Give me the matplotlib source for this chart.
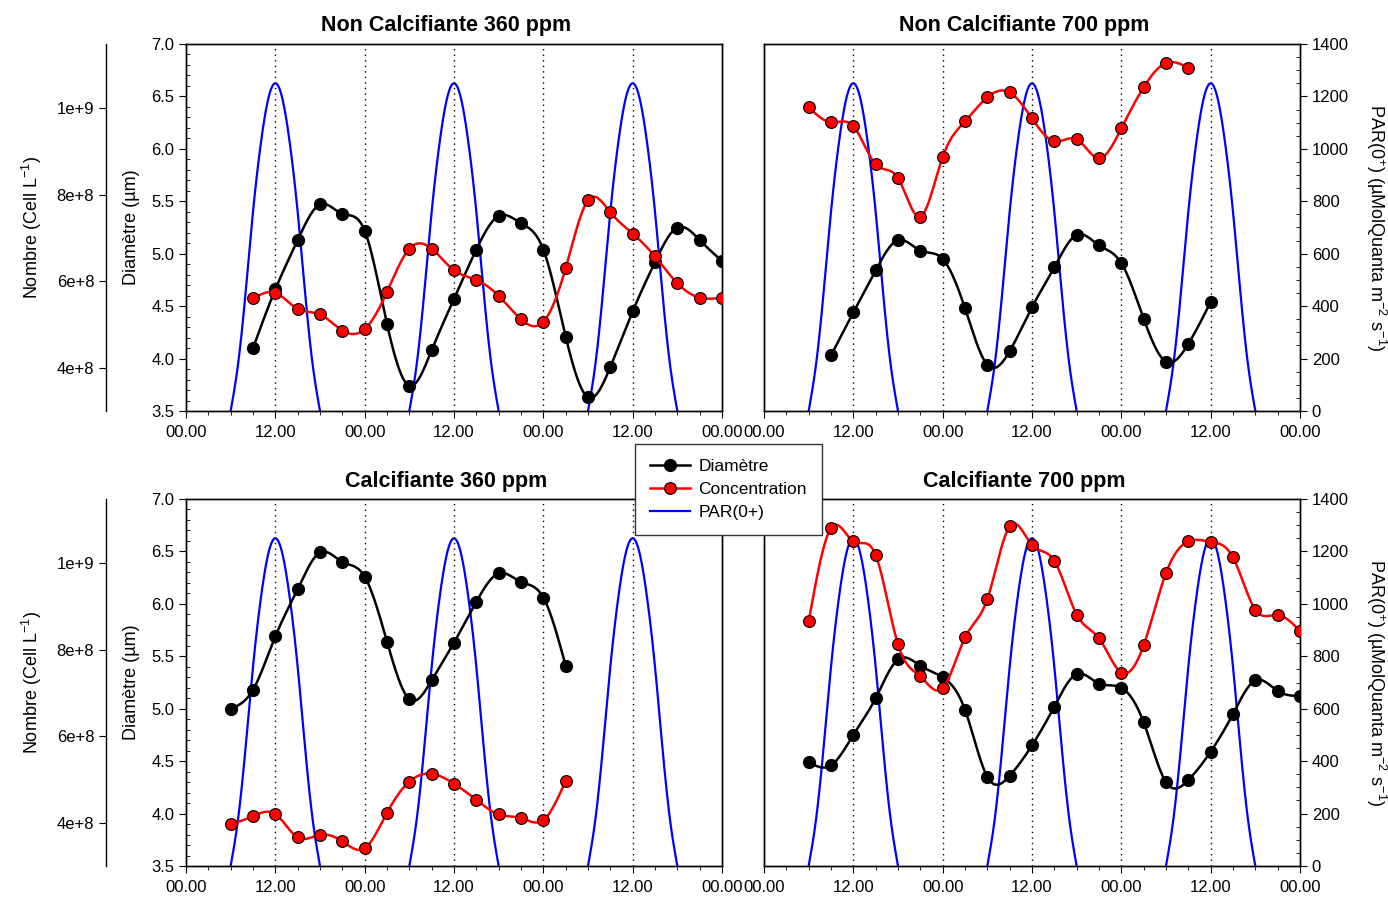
import numpy as np
import matplotlib
matplotlib.use("Agg")
import matplotlib.pyplot as plt
from matplotlib.lines import Line2D

plt.rcParams["font.family"] = ["Liberation Sans", "DejaVu Sans"]

# --- data (hours since start, diameter in um, concentration in cell/L) ---
t_nc360_d = [9, 12, 15, 18, 21, 24, 27, 30, 33, 36, 39, 42, 45, 48, 51, 54, 57, 60, 63, 66, 69, 72]
d_nc360 = [4.10, 4.66, 5.13, 5.47, 5.38, 5.22, 4.33, 3.74, 4.08, 4.57, 5.04, 5.36,
           5.29, 5.04, 4.21, 3.63, 3.92, 4.45, 4.92, 5.25, 5.13, 4.93]
t_nc360_c = t_nc360_d
c_nc360 = [5.60e8, 5.73e8, 5.36e8, 5.23e8, 4.86e8, 4.89e8, 5.75e8, 6.75e8, 6.75e8, 6.25e8, 6.03e8,
           5.66e8, 5.12e8, 5.06e8, 6.30e8, 7.87e8, 7.59e8, 7.10e8, 6.57e8, 5.95e8, 5.62e8, 5.62e8]

t_nc700_d = [9, 12, 15, 18, 21, 24, 27, 30, 33, 36, 39, 42, 45, 48, 51, 54, 57, 60]
d_nc700 = [4.03, 4.44, 4.84, 5.13, 5.03, 4.95, 4.48, 3.94, 4.07, 4.49, 4.87, 5.18,
           5.08, 4.91, 4.38, 3.97, 4.14, 4.54]
t_nc700_c = [6, 9, 12, 15, 18, 21, 24, 27, 30, 33, 36, 39, 42, 45, 48, 51, 54, 57]
c_nc700 = [1.0015e9, 9.67e8, 9.58e8, 8.70e8, 8.38e8, 7.49e8, 8.87e8, 9.69e8, 1.025e9,
           1.036e9, 9.76e8, 9.23e8, 9.28e8, 8.84e8, 9.53e8, 1.048e9, 1.104e9, 1.093e9]

t_c360_d = [6, 9, 12, 15, 18, 21, 24, 27, 30, 33, 36, 39, 42, 45, 48, 51]
d_c360 = [5.00, 5.18, 5.69, 6.14, 6.49, 6.40, 6.26, 5.64, 5.09, 5.27, 5.63, 6.02,
          6.29, 6.21, 6.06, 5.41]
t_c360_c = t_c360_d
c_c360 = [3.96e8, 4.15e8, 4.20e8, 3.66e8, 3.72e8, 3.57e8, 3.41e8, 4.23e8, 4.95e8,
          5.13e8, 4.90e8, 4.53e8, 4.19e8, 4.11e8, 4.06e8, 4.97e8]

t_c700_d = [6, 9, 12, 15, 18, 21, 24, 27, 30, 33, 36, 39, 42, 45, 48, 51, 54, 57, 60, 63, 66, 69, 72]
d_c700 = [4.49, 4.46, 4.75, 5.10, 5.47, 5.41, 5.30, 4.99, 4.35, 4.36, 4.65, 5.02,
          5.33, 5.24, 5.20, 4.87, 4.30, 4.32, 4.59, 4.95, 5.27, 5.17, 5.12]
t_c700_c = t_c700_d
c_c700 = [8.65e8, 1.081e9, 1.050e9, 1.0185e9, 8.12e8, 7.38e8, 7.11e8, 8.28e8, 9.17e8,
          1.085e9, 1.042e9, 1.005e9, 8.81e8, 8.26e8, 7.47e8, 8.10e8, 9.77e8, 1.050e9,
          1.049e9, 1.013e9, 8.92e8, 8.80e8, 8.43e8]

# PAR(0+) over one light period, same every day
par_hours = [6, 7, 8, 9, 10, 11, 12, 13, 14, 15, 16, 17, 18]
par_values = [0, 180, 450, 760, 1010, 1185, 1250, 1185, 1010, 760, 450, 180, 0]
par_days = [0, 24, 48]

titles = ["Non Calcifiante 360 ppm", "Non Calcifiante 700 ppm",
          "Calcifiante 360 ppm", "Calcifiante 700 ppm"]
x_ticks = [0, 12, 24, 36, 48, 60, 72]
x_labels = ["00.00", "12.00", "00.00", "12.00", "00.00", "12.00", "00.00"]
nombre_ticks = [4e8, 6e8, 8e8, 1e9]
nombre_labels = ["4e+8", "6e+8", "8e+8", "1e+9"]


def smooth(x, y, n=500):
    """Natural cubic spline through the points, for drawing."""
    x = np.asarray(x, float)
    y = np.asarray(y, float)
    h = np.diff(x)
    m = len(x)
    A = np.zeros((m, m))
    b = np.zeros(m)
    A[0, 0] = A[-1, -1] = 1
    for i in range(1, m - 1):
        A[i, i - 1] = h[i - 1]
        A[i, i] = 2 * (h[i - 1] + h[i])
        A[i, i + 1] = h[i]
        b[i] = 3 * ((y[i + 1] - y[i]) / h[i] - (y[i] - y[i - 1]) / h[i - 1])
    c = np.linalg.solve(A, b)
    xs = np.linspace(x[0], x[-1], n)
    idx = np.clip(np.searchsorted(x, xs) - 1, 0, m - 2)
    dx = xs - x[idx]
    bb = (y[idx + 1] - y[idx]) / h[idx] - h[idx] * (2 * c[idx] + c[idx + 1]) / 3
    dd = (c[idx + 1] - c[idx]) / (3 * h[idx])
    return xs, y[idx] + bb * dx + c[idx] * dx ** 2 + dd * dx ** 3


fig = plt.figure(figsize=(13.88, 8.97), dpi=100)
W, H = 1388, 897

panels = [
    (186, 44, t_nc360_d, d_nc360, t_nc360_c, c_nc360, True),
    (764, 44, t_nc700_d, d_nc700, t_nc700_c, c_nc700, False),
    (186, 499, t_c360_d, d_c360, t_c360_c, c_c360, True),
    (764, 499, t_c700_d, d_c700, t_c700_c, c_c700, False),
]
pw, ph = 536, 367

for k, (px, py, td, dv, tc, cv, left) in enumerate(panels):
    rect = [px / W, 1 - (py + ph) / H, pw / W, ph / H]
    ax = fig.add_axes(rect)
    axp = ax.twinx()
    axn = ax.twinx()
    axp.set_zorder(1)
    ax.set_zorder(2)
    axn.set_zorder(3)
    ax.patch.set_visible(False)

    # PAR
    for day in par_days:
        xs, ys = smooth(np.array(par_hours) + day, par_values)
        axp.plot(xs, ys, color="#0000ff", lw=1.6)
    axp.set_ylim(0, 1400)

    # vertical dotted guides
    for t in x_ticks[1:-1]:
        ax.axvline(t, color="black", ls=(0, (1, 3)), lw=1)

    # diameter
    xs, ys = smooth(td, dv)
    ax.plot(xs, ys, color="black", lw=1.8)
    ax.plot(td, dv, "o", color="black", ms=8.5)
    ax.set_ylim(3.5, 7.0)
    ax.set_xlim(0, 72)

    # concentration
    xs, ys = smooth(tc, cv)
    axn.plot(xs, ys, color="red", lw=1.8)
    axn.plot(tc, cv, "o", color="red", mec="black", mew=0.8, ms=8.5)
    axn.set_ylim(3.0e8, 1.148e9)

    ax.set_xticks(x_ticks)
    ax.set_xticklabels(x_labels)
    ax.set_xticks(np.arange(0, 73, 3), minor=True)
    ax.tick_params(axis="x", which="major", direction="out", length=5, labelsize=12, pad=5)
    ax.tick_params(axis="x", which="minor", direction="out", length=3)
    ax.set_title(titles[k], fontsize=15.5, fontweight="bold", pad=9, x=0.485)

    for a in (ax, axp, axn):
        for s in a.spines.values():
            s.set_linewidth(1.0)

    if left:
        ax.set_yticks(np.arange(3.5, 7.01, 0.5))
        ax.set_yticklabels([f"{v:.1f}" for v in np.arange(3.5, 7.01, 0.5)])
        ax.set_yticks(np.arange(3.5, 7.01, 0.1), minor=True)
        ax.tick_params(axis="y", which="major", direction="out", length=5, labelsize=12)
        ax.tick_params(axis="y", which="minor", direction="in", length=3)
        ax.set_ylabel("Diamètre (µm)", fontsize=13)
        ax.yaxis.set_label_coords(-46 / pw, 0.5)

        axn.yaxis.tick_left()
        axn.yaxis.set_label_position("left")
        for name in ("top", "right", "bottom"):
            axn.spines[name].set_visible(False)
        axn.spines["left"].set_visible(True)
        axn.spines["left"].set_position(("axes", -80 / pw))
        axn.set_yticks(nombre_ticks)
        axn.set_yticklabels(nombre_labels)
        axn.tick_params(axis="y", direction="out", length=5, labelsize=12)
        axn.set_ylabel("Nombre (Cell L$^{\\mathregular{-1}}$)", fontsize=13)
        axn.yaxis.set_label_coords(-142 / pw, 0.5)
        axp.set_yticks([])
    else:
        ax.set_yticks([])
        axn.set_yticks([])
        for s in axn.spines.values():
            s.set_visible(False)
        axp.set_yticks(np.arange(0, 1401, 200))
        axp.set_yticks(np.arange(0, 1401, 50), minor=True)
        axp.tick_params(axis="y", which="major", direction="out", length=5, labelsize=12)
        axp.tick_params(axis="y", which="minor", direction="in", length=3)
        axp.set_ylabel("PAR(0$^{\\mathregular{+}}$) (µMolQuanta m$^{\\mathregular{-2}}$ s$^{\\mathregular{-1}}$)",
                       fontsize=13, rotation=-90, va="center")
        axp.yaxis.set_label_coords(1 + 76 / pw, 0.5)

handles = [
    Line2D([], [], color="black", lw=1.8, marker="o", ms=8.5),
    Line2D([], [], color="red", lw=1.8, marker="o", ms=8.5, mec="black", mew=0.8),
    Line2D([], [], color="#0000ff", lw=1.6),
]
leg = fig.legend(handles, ["Diamètre", "Concentration", "PAR(0+)"],
                 loc="upper left", bbox_to_anchor=(635 / W, 1 - 444 / H),
                 borderaxespad=0, fontsize=12.5, frameon=True, fancybox=False,
                 framealpha=1, edgecolor="#333333", handlelength=2.3,
                 borderpad=0.85, labelspacing=0.45, handletextpad=0.5)
leg.get_frame().set_linewidth(1.0)
leg.set_zorder(10)

fig.savefig("out.png", dpi=100)
